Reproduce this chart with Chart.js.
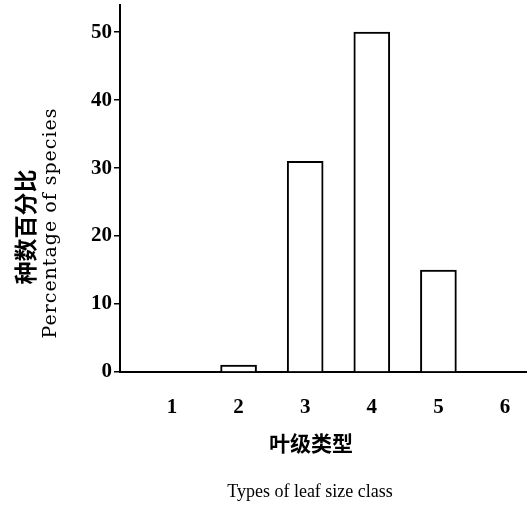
<!DOCTYPE html>
<html>
<head>
<meta charset="utf-8">
<script src="https://cdn.jsdelivr.net/npm/chart.js@4/dist/chart.umd.min.js"></script>
<style>
  html, body { margin: 0; padding: 0; background: #fff; }
  #wrap { width: 527px; height: 506px; }
</style>
</head>
<body>
<div id="wrap"><canvas id="leafChart" width="527" height="506"></canvas></div>
<script>
// Leaf size classes and percentage of species in each
const sizeClasses = [1, 2, 3, 4, 5, 6];
const speciesPct = [0, 1, 31, 50, 15, 0];
const yTickValues = [0, 10, 20, 30, 40, 50];

const yTitleCn = '种数百分比';
const yTitleEn = 'Percentage of species';
const xTitleCn = '叶级类型';
const xTitleEn = 'Types of leaf size class';

// Draw the axis titles as text on the canvas
const axisTitles = {
    id: 'axisTitles',
    afterDraw(chart) {
        const ctx = chart.ctx;
        ctx.save();
        ctx.fillStyle = '#000';
        ctx.textAlign = 'center';
        ctx.textBaseline = 'middle';

        ctx.save();
        ctx.translate(25, 227);
        ctx.rotate(-Math.PI / 2);
        ctx.font = 'bold 23px "Noto Sans CJK SC"';
        ctx.fillText(yTitleCn, 0, 0);
        ctx.restore();

        // english y title is wide in the original, stretch it to ~230px
        ctx.save();
        ctx.translate(51, 223);
        ctx.rotate(-Math.PI / 2);
        ctx.font = '19px "DejaVu Serif"';
        const w = ctx.measureText(yTitleEn).width;
        ctx.letterSpacing = Math.max(0, (230 - w) / (yTitleEn.length - 1)).toFixed(2) + 'px';
        ctx.fillText(yTitleEn, 0, 0);
        ctx.restore();

        ctx.font = 'bold 21px "Noto Sans CJK SC"';
        ctx.fillText(xTitleCn, 311, 443);
        ctx.font = '18px "Liberation Serif"';
        ctx.fillText(xTitleEn, 310, 492);
        ctx.restore();
    }
};

const chart = new Chart(document.getElementById('leafChart').getContext('2d'), {
    type: 'bar',
    data: {
        datasets: [{
            data: sizeClasses.map((c, i) => ({ x: c, y: speciesPct[i] })),
            backgroundColor: '#fff',
            borderColor: '#000',
            borderWidth: 2,
            barThickness: 36
        }]
    },
    options: {
        responsive: false,
        animation: false,
        layout: { padding: { top: 5, right: 0, left: 0, bottom: 0 } },
        plugins: {
            legend: { display: false },
            tooltip: { enabled: false }
        },
        scales: {
            x: {
                type: 'linear',
                offset: false,
                min: 0.22,
                max: 6.33,
                afterBuildTicks: s => { s.ticks = sizeClasses.map(v => ({ value: v })); },
                afterFit: s => { s.height = 134; s.paddingLeft = 0; s.paddingRight = 0; },
                grid: { display: false, offset: false },
                border: { display: true, color: '#000', width: 2 },
                ticks: {
                    color: '#000',
                    padding: 15,
                    font: { family: '"Liberation Serif"', size: 21, weight: 'bold' }
                }
            },
            y: {
                min: 0,
                max: 54,
                afterBuildTicks: s => { s.ticks = yTickValues.map(v => ({ value: v })); },
                afterFit: s => { s.width = 120; s.paddingTop = 0; s.paddingBottom = 0; },
                grid: { drawOnChartArea: false, drawTicks: true, tickLength: 6, color: '#000', lineWidth: 1.5 },
                border: { display: true, color: '#000', width: 2 },
                ticks: {
                    color: '#000',
                    padding: 2,
                    font: { family: '"Liberation Serif"', size: 21, weight: 'bold' }
                }
            }
        }
    },
    plugins: [axisTitles]
});
</script>
</body>
</html>
